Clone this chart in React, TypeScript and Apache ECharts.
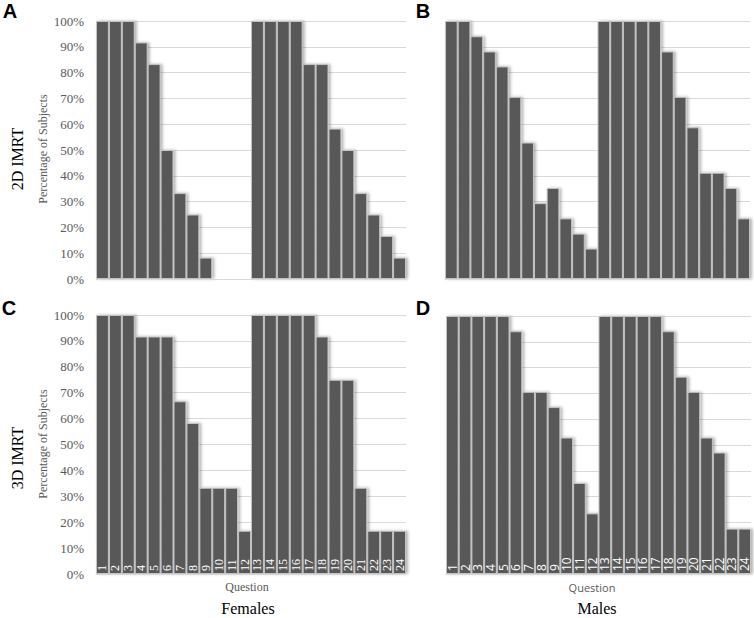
import React, { useEffect, useRef } from "react";
import * as echarts from "echarts";

const questions = Array.from({ length: 24 }, (_, i) => String(i + 1));

const females2D = [100, 100, 100, 91.7, 83.3, 50, 33.3, 25, 8.3, 0, 0, 0, 100, 100, 100, 100, 83.3, 83.3, 58.3, 50, 33.3, 25, 16.7, 8.3];
const males2D = [100, 100, 94.1, 88.2, 82.4, 70.6, 52.9, 29.4, 35.3, 23.5, 17.6, 11.8, 100, 100, 100, 100, 100, 88.2, 70.6, 58.8, 41.2, 41.2, 35.3, 23.5];
const females3D = [100, 100, 100, 91.7, 91.7, 91.7, 66.7, 58.3, 33.3, 33.3, 33.3, 16.7, 100, 100, 100, 100, 100, 91.7, 75, 75, 33.3, 16.7, 16.7, 16.7];
const males3D = [100, 100, 100, 100, 100, 94.1, 70.6, 70.6, 64.7, 52.9, 35.3, 23.5, 100, 100, 100, 100, 100, 94.1, 76.5, 70.6, 52.9, 47.1, 17.6, 17.6];

const panelLetters = ["A", "B", "C", "D"];
const rowTitles = ["2D IMRT", "3D IMRT"];
const colTitles = ["Females", "Males"];
const yAxisTitle = "Percentage of Subjects";
const xAxisTitle = "Question";

const SERIF = "'Liberation Serif', 'Times New Roman', serif";
const SANS = "'Open Sans', 'Liberation Sans', sans-serif";

export default function App() {
  const ref = useRef<HTMLDivElement>(null);
  useEffect(() => {
    document.body.style.margin = "0";
    if (!ref.current) return;
    const chart = echarts.init(ref.current, undefined, { renderer: "svg" });

    const grids = [
      { left: 96, top: 21, width: 310, height: 258 },
      { left: 445, top: 21, width: 305, height: 258 },
      { left: 96, top: 315, width: 310, height: 259 },
      { left: 446, top: 316, width: 305, height: 258 },
    ];
    const datasets = [females2D, males2D, females3D, males3D];

    const xAxes = grids.map((_, i) => ({
      type: "category",
      gridIndex: i,
      data: questions,
      boundaryGap: true,
      axisLine: { show: true, lineStyle: { color: "#d9d9d9", width: 1 } },
      axisTick: { show: false },
      axisLabel: {
        show: i >= 2,
        inside: true,
        rotate: 90,
        interval: 0,
        margin: 3,
        color: "#ffffff",
        fontSize: 12,
        fontFamily: i === 2 ? SERIF : SANS,
      },
      z: 5,
    }));

    const yAxes = grids.map((_, i) => ({
      type: "value",
      gridIndex: i,
      min: 0,
      max: 100,
      interval: 10,
      axisLine: { show: false },
      axisTick: { show: false },
      splitLine: { show: true, lineStyle: { color: "#d9d9d9", width: 1 } },
      axisLabel: {
        show: i % 2 === 0,
        formatter: "{value}%",
        color: "#595959",
        fontSize: 13,
        fontFamily: SERIF,
        margin: 12,
      },
    }));

    const series = datasets.map((d, i) => ({
      type: "bar",
      xAxisIndex: i,
      yAxisIndex: i,
      data: d,
      barCategoryGap: "0%",
      itemStyle: {
        color: "#595959",
        borderColor: "#c4c4c4",
        borderWidth: 1,
        shadowColor: "rgba(0,0,0,0.3)",
        shadowBlur: 3,
        shadowOffsetX: 2,
        shadowOffsetY: 0,
      },
    }));

    const t = (text: string, x: number, y: number, font: string, fill: string, rotation = 0) => ({
      type: "text",
      x,
      y,
      rotation,
      style: {
        text,
        font,
        fill,
        textAlign: "center",
        textVerticalAlign: "middle",
        align: "center",
        verticalAlign: "middle",
      },
      z: 10,
    });

    const letterFont = "bold 20px 'Liberation Sans', Arial, sans-serif";
    const graphic = [
      t(panelLetters[0], 10, 11, letterFont, "#000"),
      t(panelLetters[1], 423, 11, letterFont, "#000"),
      t(panelLetters[2], 9, 308, letterFont, "#000"),
      t(panelLetters[3], 423, 308, letterFont, "#000"),
      t(rowTitles[0], 17, 159, `16px ${SERIF}`, "#000", Math.PI / 2),
      t(rowTitles[1], 17, 458, `16px ${SERIF}`, "#000", Math.PI / 2),
      t(yAxisTitle, 43, 149, `12px ${SERIF}`, "#595959", Math.PI / 2),
      t(yAxisTitle, 43, 444, `12px ${SERIF}`, "#595959", Math.PI / 2),
      t(xAxisTitle, 247, 587, `12px ${SERIF}`, "#595959"),
      t(xAxisTitle, 592, 587, `11px ${SANS}`, "#595959"),
      t(colTitles[0], 248, 608, `16px ${SERIF}`, "#000"),
      t(colTitles[1], 597, 608, `16px ${SERIF}`, "#000"),
    ];

    chart.setOption({
      animation: false,
      backgroundColor: "#ffffff",
      grid: grids,
      xAxis: xAxes,
      yAxis: yAxes,
      series,
      graphic,
    });
    return () => chart.dispose();
  }, []);
  return <div ref={ref} style={{ width: 754, height: 618 }} />;
}
